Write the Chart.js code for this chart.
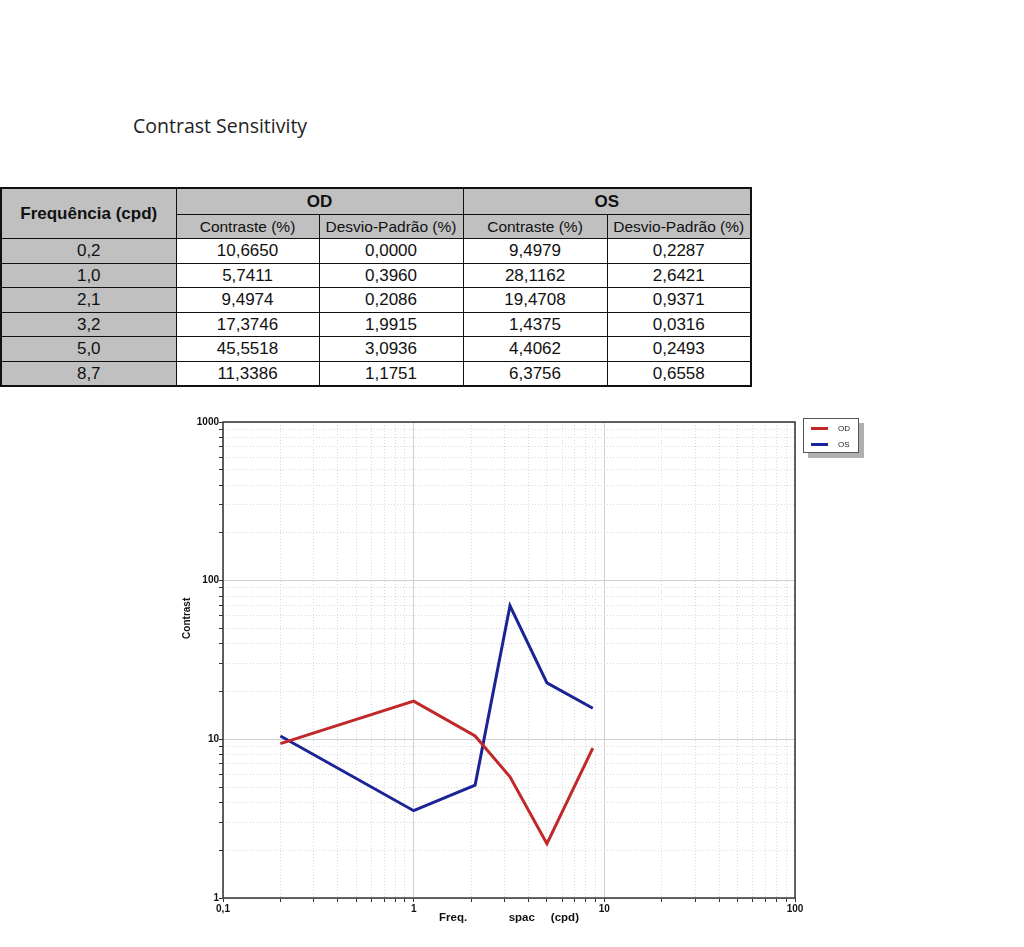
<!DOCTYPE html>
<html>
<head>
<meta charset="utf-8">
<script src="https://cdn.jsdelivr.net/npm/chart.js@4.4.0/dist/chart.umd.min.js"></script>
<style>
  body { margin: 0; background: #fff; width: 1024px; height: 947px; position: relative; overflow: hidden; }
  #title { position: absolute; left: 133px; top: 112px; font-family: "Open Sans", sans-serif; font-size: 19.5px; color: #222; }
  #tbl { position: absolute; left: 0; top: 187px; border-collapse: collapse; font-family: "Liberation Sans", Arial, sans-serif; border: 2px solid #111; table-layout: fixed; }
  #tbl td, #tbl th { border: 1.5px solid #111; text-align: center; padding: 0; color: #111; line-height: 1; overflow: hidden; white-space: nowrap; }
  #tbl th { background: #c0c0c0; }
  #tbl .h1 th { height: 24.5px; font-size: 17px; font-weight: bold; }
  #tbl .h2 th { height: 23.5px; font-size: 15.5px; font-weight: normal; }
  #tbl td { height: 23.5px; font-size: 17px; }
  #tbl td.f { background: #c0c0c0; }
  #wrap { position: absolute; left: 150px; top: 400px; width: 660px; height: 540px; }
  #legend { position: absolute; left: 803px; top: 418px; width: 54px; height: 33px; border: 1px solid #555; background: #fff; box-shadow: 5px 5px 0 #b0b0b0; font-family: "Liberation Sans", Arial, sans-serif; font-size: 8px; color: #222; }
  #legend div { position: absolute; left: 7px; height: 12px; line-height: 12px; }
  #legend span.l { display: inline-block; width: 17px; height: 3px; vertical-align: middle; margin-right: 10px; }
</style>
</head>
<body>
<div id="title">Contrast Sensitivity</div>
<table id="tbl"></table>
<div id="wrap"><canvas id="myChart" width="660" height="540"></canvas></div>
<div id="legend"></div>
<script>
// table data
const frequencies = ['0,2', '1,0', '2,1', '3,2', '5,0', '8,7'];
const odContrast = ['10,6650', '5,7411', '9,4974', '17,3746', '45,5518', '11,3386'];
const odDesvio = ['0,0000', '0,3960', '0,2086', '1,9915', '3,0936', '1,1751'];
const osContrast = ['9,4979', '28,1162', '19,4708', '1,4375', '4,4062', '6,3756'];
const osDesvio = ['0,2287', '2,6421', '0,9371', '0,0316', '0,2493', '0,6558'];

// chart data
const freqValues = [0.2, 1.0, 2.1, 3.2, 5.0, 8.7];
const odValues = [9.4, 17.4, 10.5, 5.8, 2.2, 8.8];
const osValues = [10.5, 3.55, 5.15, 69.5, 22.7, 15.7];
const seriesNames = ['OD', 'OS'];
const seriesColors = ['#c0282a', '#1b2494'];
const xTickLabels = { 0.1: '0,1', 1: '1', 10: '10', 100: '100' };
const yTickLabels = { 1: '1', 10: '10', 100: '100', 1000: '1000' };

function buildTable() {
    const t = document.getElementById('tbl');
    let html = '<colgroup><col style="width:175px"><col style="width:143px"><col style="width:144px"><col style="width:144px"><col style="width:144px"></colgroup>';
    html += '<tr class="h1"><th rowspan="2">Frequência (cpd)</th><th colspan="2">OD</th><th colspan="2">OS</th></tr>';
    html += '<tr class="h2"><th>Contraste (%)</th><th>Desvio-Padrão (%)</th><th>Contraste (%)</th><th>Desvio-Padrão (%)</th></tr>';
    for (let i in frequencies) {
        html += '<tr><td class="f">' + frequencies[i] + '</td><td>' + odContrast[i] + '</td><td>' + odDesvio[i] +
            '</td><td>' + osContrast[i] + '</td><td>' + osDesvio[i] + '</td></tr>';
    }
    t.innerHTML = html;
}

function buildLegend() {
    const lg = document.getElementById('legend');
    let html = '';
    for (let i in seriesNames) {
        html += '<div style="top:' + (4 + i * 16) + 'px"><span class="l" style="background:' + seriesColors[i] + '"></span>' + seriesNames[i] + '</div>';
    }
    lg.innerHTML = html;
}

function logTicks(min, max) {
    const out = [];
    for (let d = min; d < max; d *= 10) {
        for (let k = 1; k < 10; k++) out.push({ value: +(d * k).toPrecision(3) });
    }
    out.push({ value: max });
    return out;
}

function isMajor(v) {
    const l = Math.log10(v);
    return Math.abs(l - Math.round(l)) < 1e-6;
}

const gridOpts = {
    color: function (c) { return c.tick && isMajor(c.tick.value) ? '#d0d0d0' : '#d8d8d8'; },
    lineWidth: 1,
    tickLength: 4,
    tickColor: '#333'
};

const boxPlugin = {
    id: 'box',
    afterDraw: function (chart) {
        const a = chart.chartArea;
        const ctx = chart.ctx;
        ctx.save();
        ctx.strokeStyle = '#333';
        ctx.lineWidth = 1.5;
        ctx.strokeRect(a.left, a.top, a.right - a.left, a.bottom - a.top);
        ctx.restore();
    }
};

function showChart() {
    const ctx = document.getElementById('myChart');
    const tickFont = { family: '"Liberation Sans", Arial, sans-serif', size: 10, weight: 'bold' };
    const titleFont = { family: '"Liberation Sans", Arial, sans-serif', size: 11.5, weight: 'bold' };
    new Chart(ctx, {
        type: 'line',
        data: {
            datasets: [{
                label: seriesNames[0],
                data: freqValues.map((x, i) => ({ x: x, y: odValues[i] })),
                borderColor: seriesColors[0],
                borderWidth: 3,
                pointRadius: 0,
                tension: 0
            }, {
                label: seriesNames[1],
                data: freqValues.map((x, i) => ({ x: x, y: osValues[i] })),
                borderColor: seriesColors[1],
                borderWidth: 3,
                pointRadius: 0,
                tension: 0
            }]
        },
        options: {
            responsive: false,
            animation: false,
            layout: { padding: { top: 22, right: 15, left: 0, bottom: 0 } },
            plugins: { legend: { display: false }, tooltip: { enabled: false } },
            scales: {
                x: {
                    type: 'logarithmic',
                    min: 0.1,
                    max: 100,
                    afterBuildTicks: function (s) { s.ticks = logTicks(0.1, 100); },
                    afterFit: function (s) { s.height = 42; },
                    grid: gridOpts,
                    border: { display: false, dash: function (c) { return c.tick && !isMajor(c.tick.value) ? [1, 2] : []; } },
                    ticks: {
                        autoSkip: false, maxRotation: 0, padding: 1, color: '#111', font: tickFont,
                        callback: function (v) { return xTickLabels[+v.toPrecision(3)] || ''; }
                    },
                    title: {
                        display: true, text: 'Freq.             spac     (cpd)', color: '#111',
                        font: titleFont, padding: { top: 0, bottom: 15 }
                    }
                },
                y: {
                    type: 'logarithmic',
                    min: 1,
                    max: 1000,
                    afterBuildTicks: function (s) { s.ticks = logTicks(1, 1000); },
                    afterFit: function (s) { s.width = 73; },
                    grid: gridOpts,
                    border: { display: false, dash: function (c) { return c.tick && !isMajor(c.tick.value) ? [1, 2] : []; } },
                    ticks: {
                        autoSkip: false, padding: 0, color: '#111', font: tickFont,
                        callback: function (v) { return yTickLabels[+v.toPrecision(3)] || ''; }
                    },
                    title: {
                        display: true, text: '                              Contrast', color: '#111',
                        font: tickFont, padding: { top: 31, bottom: 0 }
                    }
                }
            }
        },
        plugins: [boxPlugin]
    });
}

buildTable();
buildLegend();
showChart();
</script>
</body>
</html>
